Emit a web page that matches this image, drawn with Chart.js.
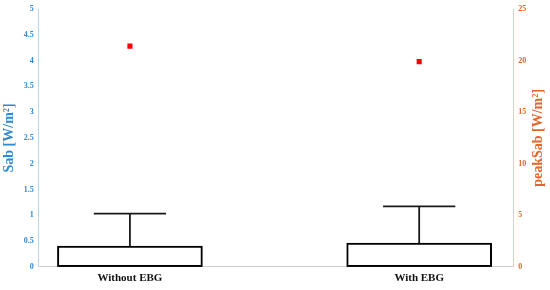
<!DOCTYPE html>
<html>
<head>
<meta charset="utf-8">
<script src="https://cdn.jsdelivr.net/npm/chart.js@4"></script>
<style>
html,body{margin:0;padding:0;background:#fff;}
#wrap{width:550px;height:290px;}
</style>
</head>
<body>
<div id="wrap"><canvas id="c" width="550" height="290"></canvas></div>
<script>
// Data
const categories = ['Without EBG', 'With EBG'];
const q1Values = [0, 0];
const medianValues = [0.01, 0.01];
const q3Values = [0.40, 0.46];
const upperWhisker = [1.03, 1.17];
const peakOutliers = [21.4, 19.9];
const sabTicks = [0, 0.5, 1, 1.5, 2, 2.5, 3, 3.5, 4, 4.5, 5];
const peakTicks = [0, 5, 10, 15, 20, 25];

// Styles
const BOX_HALF = 0.25;
const CAP_HALF = 0.125;
const BLUE = '#2f8ad4';
const ORANGE = '#e2662a';
const serif = 'Liberation Serif';
const RIGHT_TITLE = 'peakSab [W/m²]';

const positions = categories.map((_, i) => i + 1);
const datasets = [];

datasets.push({
  type: 'bar',
  data: positions.map((p, i) => ({x: p, y: [q1Values[i], q3Values[i]]})),
  yAxisID: 'y',
  backgroundColor: '#ffffff',
  borderColor: '#000000',
  borderWidth: 2,
  borderSkipped: false,
  barThickness: 145,
  order: 5
});
positions.forEach((p, i) => {
  datasets.push({
    type: 'line', yAxisID: 'y',
    data: [{x: p, y: q3Values[i]}, {x: p, y: upperWhisker[i]}],
    borderColor: '#1a1a1a', borderWidth: 1.8, pointRadius: 0, order: 4
  });
  datasets.push({
    type: 'line', yAxisID: 'y',
    data: [{x: p - CAP_HALF, y: upperWhisker[i]}, {x: p + CAP_HALF, y: upperWhisker[i]}],
    borderColor: '#1a1a1a', borderWidth: 1.8, pointRadius: 0, order: 4
  });
  datasets.push({
    type: 'line', yAxisID: 'y',
    data: [{x: p - BOX_HALF, y: medianValues[i]}, {x: p + BOX_HALF, y: medianValues[i]}],
    borderColor: '#000', borderWidth: 2.5, pointRadius: 0, order: 1
  });
});
datasets.push({
  type: 'scatter', yAxisID: 'y2',
  data: positions.map((p, i) => ({x: p, y: peakOutliers[i]})),
  pointStyle: 'rect', pointRadius: 3.6, backgroundColor: '#ff0000', borderColor: '#ff0000', borderWidth: 0, order: 0
});

// Draw the right-axis title reading bottom-to-top like the reference
const rightTitlePlugin = {
  id: 'rightTitle',
  afterDraw(chart) {
    const s = chart.scales.y2;
    const ctx = chart.ctx;
    ctx.save();
    ctx.font = 'bold 14px "' + serif + '"';
    ctx.fillStyle = ORANGE;
    ctx.textAlign = 'center';
    ctx.textBaseline = 'middle';
    ctx.translate(s.right - 11, (s.top + s.bottom) / 2);
    ctx.rotate(-Math.PI / 2);
    ctx.fillText(RIGHT_TITLE, 0, 0);
    ctx.restore();
  }
};

new Chart(document.getElementById('c'), {
  type: 'bar',
  data: {datasets},
  options: {
    responsive: false,
    animation: false,
    layout: {padding: {top: 9, right: 1, left: 1, bottom: 0}},
    plugins: {legend: {display: false}, tooltip: {enabled: false}},
    scales: {
      x: {
        type: 'linear', min: 0.685, max: 2.325, offset: false,
        grid: {display: false, drawTicks: false, offset: false},
        border: {color: '#cfcfcf', width: 1},
        afterBuildTicks: (ax) => { ax.ticks = positions.map(v => ({value: v})); },
        ticks: {
          color: '#111', padding: 5,
          font: {family: serif, weight: 'bold', size: 11},
          callback: (v) => categories[positions.indexOf(v)] || ''
        }
      },
      y: {
        position: 'left', min: 0, max: 5,
        afterBuildTicks: (ax) => { ax.ticks = sabTicks.map(v => ({value: v})); },
        grid: {display: false, drawTicks: true, tickLength: 3, tickColor: '#bcd6ee'},
        border: {color: '#bcd6ee', width: 1},
        ticks: {color: BLUE, padding: 2, font: {family: serif, weight: 'bold', size: 8},
                callback: (v) => String(v)},
        title: {display: true, text: 'Sab [W/m²]', color: BLUE, padding: {top: 0, bottom: 4},
                font: {family: serif, weight: 'bold', size: 14}}
      },
      y2: {
        position: 'right', min: 0, max: 25,
        afterBuildTicks: (ax) => { ax.ticks = peakTicks.map(v => ({value: v})); },
        grid: {display: false, drawTicks: true, tickLength: 3, tickColor: '#f5c6b0'},
        border: {color: '#f5c6b0', width: 1},
        ticks: {color: ORANGE, padding: 2, font: {family: serif, weight: 'bold', size: 8},
                callback: (v) => String(v)},
        title: {display: true, text: RIGHT_TITLE, color: 'rgba(0,0,0,0)', padding: {top: 4, bottom: 0},
                font: {family: serif, weight: 'bold', size: 14}}
      }
    }
  },
  plugins: [rightTitlePlugin]
});
</script>
</body>
</html>
